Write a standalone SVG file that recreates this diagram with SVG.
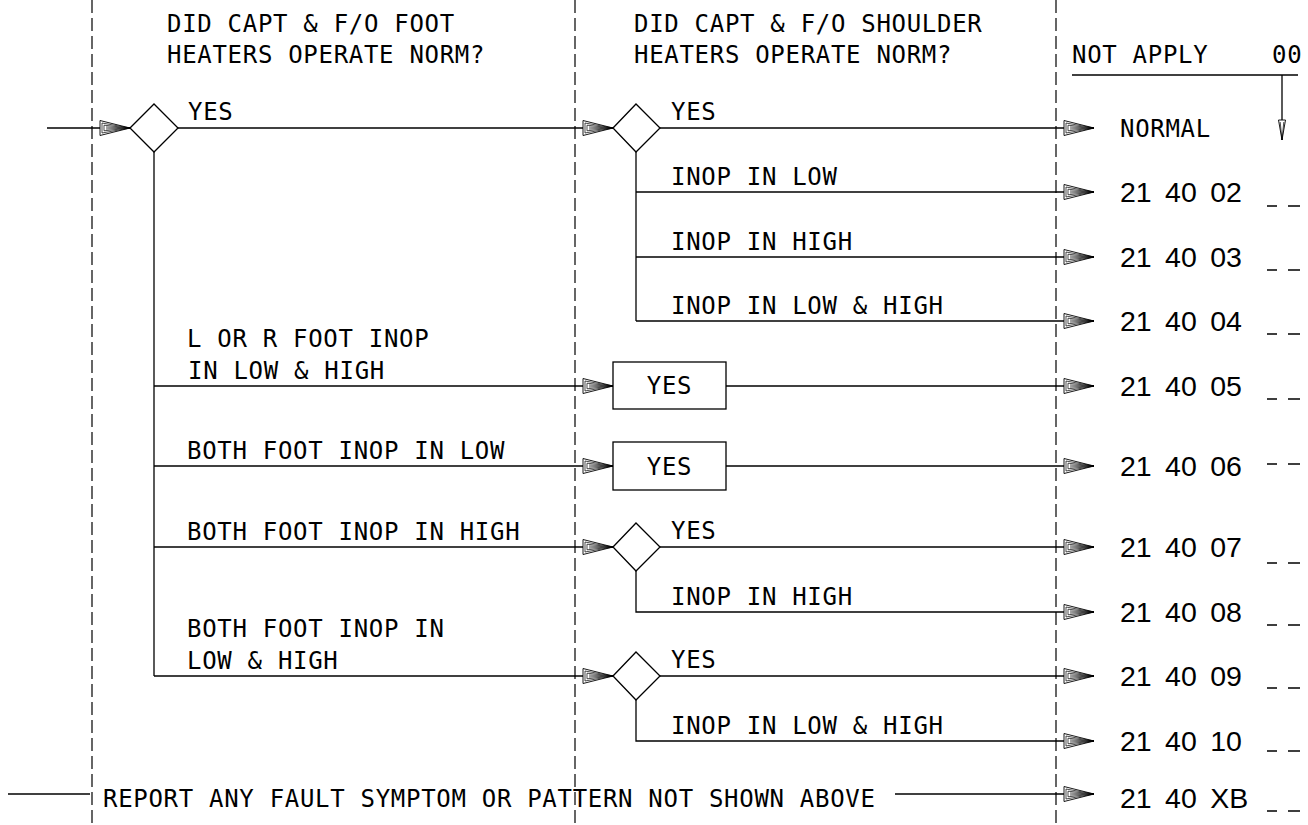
<svg xmlns="http://www.w3.org/2000/svg" width="1308" height="825" viewBox="0 0 1308 825">
<defs>
<style>
.ln{stroke:#000;stroke-width:1.3;fill:none}
.dash{stroke:#000;stroke-width:1.2;stroke-dasharray:13 5;fill:none}
.t{font-family:"DejaVu Sans Mono","Liberation Mono",monospace;font-size:24px;letter-spacing:0.7px;fill:#000}
.c{font-family:"Liberation Sans",Arial,sans-serif;font-size:28.5px;word-spacing:5.5px;fill:#000}
.shape{fill:#fff;stroke:#000;stroke-width:1.3}
.tick{stroke:#000;stroke-width:1.3}
</style>
<marker id="arr" markerUnits="userSpaceOnUse" markerWidth="36" markerHeight="20" viewBox="-32 -10 36 20" refX="0" refY="0" orient="auto" overflow="visible">
<path d="M-30,-7.5 L0,0 L-30,7.5 Z" fill="#fff" stroke="#000" stroke-width="0.9"/>
<path d="M-28,-5 L0,0 L-28,5 Z M-26,-2.8 L0,0 L-26,2.8 Z M-24,-1 L0,0 L-24,1" fill="none" stroke="#000" stroke-width="0.7"/>
</marker>
<marker id="arrv" markerUnits="userSpaceOnUse" markerWidth="24" markerHeight="10" viewBox="-22 -5 24 10" refX="0" refY="0" orient="auto" overflow="visible">
<path d="M-20,-3.5 L0,0 L-20,3.5 Z" fill="#fff" stroke="#000" stroke-width="0.9"/>
<path d="M-18,-1.8 L0,0 L-18,1.8" fill="none" stroke="#000" stroke-width="0.7"/>
</marker>
</defs>
<rect width="1308" height="825" fill="#fff"/>

<g id="column-dividers">
<line class="dash" x1="92" y1="0" x2="92" y2="825"/>
<line class="dash" x1="575" y1="0" x2="575" y2="825"/>
<line class="dash" x1="1056" y1="0" x2="1056" y2="825"/>
</g>

<g id="header-foot">
<text class="t" x="167" y="32">DID CAPT &amp; F/O FOOT</text>
<text class="t" x="167" y="63">HEATERS OPERATE NORM?</text>
</g>
<g id="header-shoulder">
<text class="t" x="634" y="32">DID CAPT &amp; F/O SHOULDER</text>
<text class="t" x="634" y="63">HEATERS OPERATE NORM?</text>
</g>
<g id="header-not-apply">
<text class="t" x="1072" y="63">NOT APPLY</text>
<text class="t" x="1272" y="63">00</text>
<line class="ln" x1="1072" y1="75" x2="1298" y2="75"/>
</g>

<g id="connectors">
<path class="ln" d="M47,128 H130" marker-end="url(#arr)"/>
<path class="ln" d="M178,128 H613" marker-end="url(#arr)"/>
<path class="ln" d="M660,128 H1094" marker-end="url(#arr)"/>
<path class="ln" d="M636,152 V321"/>
<path class="ln" d="M636,192 H1094" marker-end="url(#arr)"/>
<path class="ln" d="M636,257 H1094" marker-end="url(#arr)"/>
<path class="ln" d="M636,321 H1094" marker-end="url(#arr)"/>
<path class="ln" d="M154,152 V676"/>
<path class="ln" d="M154,386 H613" marker-end="url(#arr)"/>
<path class="ln" d="M726,386 H1094" marker-end="url(#arr)"/>
<path class="ln" d="M154,466 H613" marker-end="url(#arr)"/>
<path class="ln" d="M726,466 H1094" marker-end="url(#arr)"/>
<path class="ln" d="M154,547 H613" marker-end="url(#arr)"/>
<path class="ln" d="M660,547 H1094" marker-end="url(#arr)"/>
<path class="ln" d="M636,571 V612 H1094" marker-end="url(#arr)"/>
<path class="ln" d="M154,676 H613" marker-end="url(#arr)"/>
<path class="ln" d="M660,676 H1094" marker-end="url(#arr)"/>
<path class="ln" d="M636,700 V741 H1094" marker-end="url(#arr)"/>
<path class="ln" d="M8,794 H90"/>
<path class="ln" d="M895,794 H1094" marker-end="url(#arr)"/>
<path class="ln" d="M1282,75 V140" marker-end="url(#arrv)"/>
</g>

<g id="decision-foot">
<polygon class="shape" points="130,128 154,104 178,128 154,152"/>
<text class="t" x="188" y="120">YES</text>
</g>
<g id="decision-shoulder">
<polygon class="shape" points="613,128 636,104 660,128 636,152"/>
<text class="t" x="671" y="120">YES</text>
<text class="t" x="671" y="185">INOP IN LOW</text>
<text class="t" x="671" y="250">INOP IN HIGH</text>
<text class="t" x="671" y="314">INOP IN LOW &amp; HIGH</text>
</g>
<g id="label-l-or-r">
<text class="t" x="187" y="347">L OR R FOOT INOP</text>
<text class="t" x="188" y="379">IN LOW &amp; HIGH</text>
</g>
<g id="box-yes-1">
<rect class="shape" x="613" y="362" width="113" height="47"/>
<text class="t" x="669.5" y="394" text-anchor="middle">YES</text>
</g>
<g id="label-both-low">
<text class="t" x="187" y="459">BOTH FOOT INOP IN LOW</text>
</g>
<g id="box-yes-2">
<rect class="shape" x="613" y="442" width="113" height="48"/>
<text class="t" x="669.5" y="475" text-anchor="middle">YES</text>
</g>
<g id="label-both-high">
<text class="t" x="187" y="540">BOTH FOOT INOP IN HIGH</text>
</g>
<g id="decision-high">
<polygon class="shape" points="613,547 636,523 660,547 636,571"/>
<text class="t" x="671" y="539">YES</text>
<text class="t" x="671" y="605">INOP IN HIGH</text>
</g>
<g id="label-both-lowhigh">
<text class="t" x="187" y="637">BOTH FOOT INOP IN</text>
<text class="t" x="187" y="669">LOW &amp; HIGH</text>
</g>
<g id="decision-lowhigh">
<polygon class="shape" points="613,676 636,652 660,676 636,700"/>
<text class="t" x="671" y="668">YES</text>
<text class="t" x="671" y="734">INOP IN LOW &amp; HIGH</text>
</g>
<g id="report">
<text class="t" x="103" y="807">REPORT ANY FAULT SYMPTOM OR PATTERN NOT SHOWN ABOVE</text>
</g>

<g id="results">
<text class="t" x="1120" y="137">NORMAL</text>
<text class="c" x="1120" y="202">21 40 02</text>
<text class="c" x="1120" y="267">21 40 03</text>
<text class="c" x="1120" y="331">21 40 04</text>
<text class="c" x="1120" y="396">21 40 05</text>
<text class="c" x="1120" y="476">21 40 06</text>
<text class="c" x="1120" y="557">21 40 07</text>
<text class="c" x="1120" y="622">21 40 08</text>
<text class="c" x="1120" y="686">21 40 09</text>
<text class="c" x="1120" y="751">21 40 10</text>
<text class="c" x="1120" y="808">21 40 XB</text>
</g>
<g id="blank-marks">
<path class="tick" d="M1267,206 H1277 M1288,206 H1300"/>
<path class="tick" d="M1267,270 H1277 M1288,270 H1300"/>
<path class="tick" d="M1267,334 H1277 M1288,334 H1300"/>
<path class="tick" d="M1267,399 H1277 M1288,399 H1300"/>
<path class="tick" d="M1267,464 H1277 M1288,464 H1300"/>
<path class="tick" d="M1267,563 H1277 M1288,563 H1300"/>
<path class="tick" d="M1267,625 H1277 M1288,625 H1300"/>
<path class="tick" d="M1267,688 H1277 M1288,688 H1300"/>
<path class="tick" d="M1267,751 H1277 M1288,751 H1300"/>
<path class="tick" d="M1267,811 H1277 M1288,811 H1300"/>
</g>
</svg>
